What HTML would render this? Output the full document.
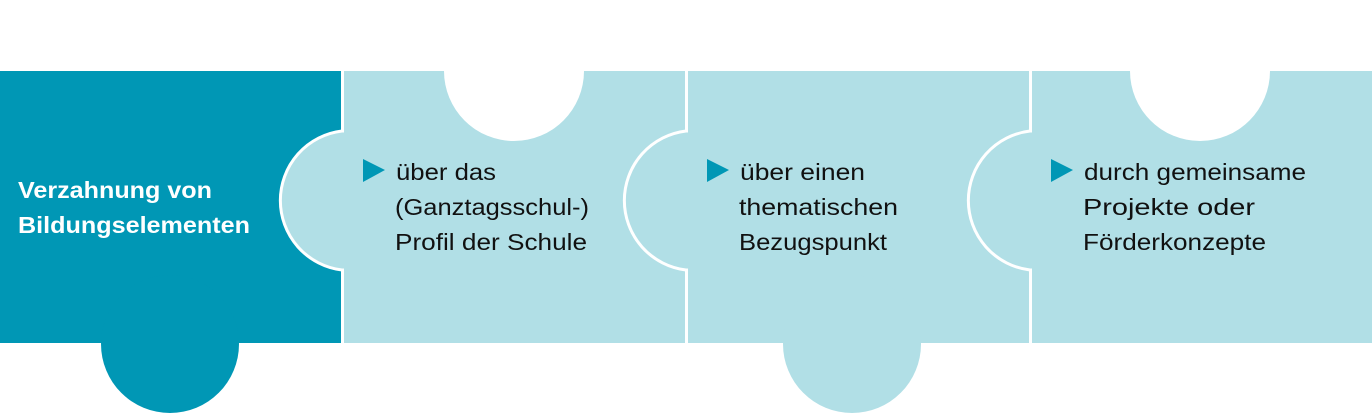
<!DOCTYPE html>
<html><head><meta charset="utf-8"><style>
html,body{margin:0;padding:0;background:#fff;width:1372px;height:414px;overflow:hidden}
svg{display:block}
text{font-family:"Liberation Sans",sans-serif;font-size:23px;fill:#111}
.h{font-weight:bold;fill:#fff;font-size:23px}
</style></head><body>
<svg width="1372" height="414" viewBox="0 0 1372 414">
<rect x="0" y="71" width="341" height="272" fill="#0097b5"/>
<circle cx="170" cy="344" r="69" fill="#0097b5"/>
<rect x="344" y="71" width="341" height="272" fill="#b1dfe6"/>
<rect x="688" y="71" width="341" height="272" fill="#b1dfe6"/>
<circle cx="852" cy="344" r="69" fill="#b1dfe6"/>
<rect x="1032" y="71" width="340" height="272" fill="#b1dfe6"/>

<path d="M346 131 L342 131 A70 70 0 0 0 342 270 L346 270 Z" fill="#b1dfe6"/>
<path d="M344 131 L342 131 A70 70 0 0 0 342 270 L344 270" fill="none" stroke="#fff" stroke-width="3"/>
<path d="M690 131 L686 131 A70 70 0 0 0 686 270 L690 270 Z" fill="#b1dfe6"/>
<path d="M688 131 L686 131 A70 70 0 0 0 686 270 L688 270" fill="none" stroke="#fff" stroke-width="3"/>
<path d="M1034 131 L1030 131 A70 70 0 0 0 1030 270 L1034 270 Z" fill="#b1dfe6"/>
<path d="M1032 131 L1030 131 A70 70 0 0 0 1030 270 L1032 270" fill="none" stroke="#fff" stroke-width="3"/>

<circle cx="514" cy="71" r="70" fill="#fff"/>
<circle cx="1200" cy="71" r="70" fill="#fff"/>
<rect x="0" y="0" width="1372" height="71" fill="#fff"/>

<text class="h" x="18" y="198" textLength="194" lengthAdjust="spacingAndGlyphs">Verzahnung von</text>
<text class="h" x="18" y="233" textLength="232" lengthAdjust="spacingAndGlyphs">Bildungselementen</text>

<polygon points="363,159 385,170 363,182" fill="#0097b5"/>
<text x="396" y="180" textLength="100" lengthAdjust="spacingAndGlyphs">über das</text>
<text x="395" y="215" textLength="194" lengthAdjust="spacingAndGlyphs">(Ganztagsschul-)</text>
<text x="395" y="250" textLength="192" lengthAdjust="spacingAndGlyphs">Profil der Schule</text>

<polygon points="707,159 729,170 707,182" fill="#0097b5"/>
<text x="740" y="180" textLength="125" lengthAdjust="spacingAndGlyphs">über einen</text>
<text x="739" y="215" textLength="159" lengthAdjust="spacingAndGlyphs">thematischen</text>
<text x="739" y="250" textLength="148" lengthAdjust="spacingAndGlyphs">Bezugspunkt</text>

<polygon points="1051,159 1073,170 1051,182" fill="#0097b5"/>
<text x="1084" y="180" textLength="222" lengthAdjust="spacingAndGlyphs">durch gemeinsame</text>
<text x="1083" y="215" textLength="172" lengthAdjust="spacingAndGlyphs">Projekte oder</text>
<text x="1083" y="250" textLength="183" lengthAdjust="spacingAndGlyphs">Förderkonzepte</text>
</svg>
</body></html>
